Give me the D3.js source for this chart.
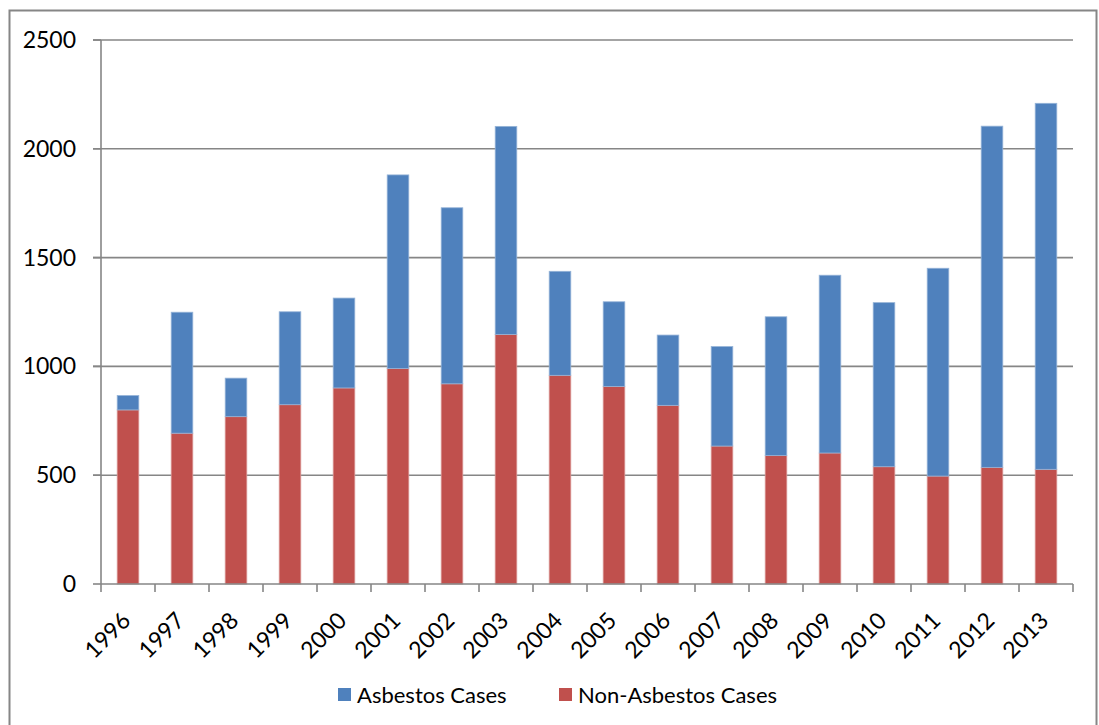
<!DOCTYPE html>
<html>
<head>
<meta charset="utf-8">
<script src="https://cdn.jsdelivr.net/npm/d3@7"></script>
<style>
  html, body { margin: 0; padding: 0; background: #fff; }
  svg { display: block; font-family: Lato, "Open Sans", sans-serif; }
</style>
</head>
<body>
<svg id="chart" width="1099" height="725"></svg>
<script>
// Cases per year, split into asbestos-related and other cases
const years = ["1996","1997","1998","1999","2000","2001","2002","2003","2004","2005",
               "2006","2007","2008","2009","2010","2011","2012","2013"];
const nonAsbestos = [800, 693, 769, 824, 901, 990, 920, 1147, 959, 908,
                     821, 634, 590, 602, 539, 496, 536, 527];
const asbestos    = [66, 556, 177, 427, 413, 890, 809, 956, 478, 389,
                     323, 457, 638, 817, 754, 955, 1568, 1682];
const yTicks = [0, 500, 1000, 1500, 2000, 2500];
const seriesNames = ["Asbestos Cases", "Non-Asbestos Cases"];
const seriesColors = ["#4F81BD", "#C0504D"];

const svg = d3.select("#chart");
const plotLeft = 101, plotRight = 1073, plotTop = 40, plotBottom = 584;

// Outer chart frame
svg.append("rect")
  .attr("x", 9.5).attr("y", 10.5)
  .attr("width", 1087).attr("height", 740)
  .attr("fill", "#fff").attr("stroke", "#868686").attr("stroke-width", 2);

const x = d3.scaleBand().domain(years).range([plotLeft, plotRight]).paddingInner(0.6).paddingOuter(0.3);
const y = d3.scaleLinear().domain([0, 2500]).range([plotBottom, plotTop]);

// Horizontal gridlines
svg.append("g").selectAll("line").data(yTicks.filter(t => t > 0)).join("line")
  .attr("x1", plotLeft - 8).attr("x2", plotRight)
  .attr("y1", d => y(d)).attr("y2", d => y(d))
  .attr("stroke", "#868686").attr("stroke-width", 1.6);

// Stacked bars
const rows = years.map((yr, i) => ({ year: yr, non: nonAsbestos[i], asb: asbestos[i] }));
const stack = d3.stack().keys(["non", "asb"])(rows);
const colorFor = { non: seriesColors[1], asb: seriesColors[0] };
const edgeFor = { non: "#D99694", asb: "#95B3D7" };

svg.append("g").selectAll("g").data(stack).join("g")
  .attr("fill", d => colorFor[d.key])
  .attr("stroke", d => edgeFor[d.key])
  .attr("stroke-width", 0.8)
  .selectAll("rect").data(d => d).join("rect")
  .attr("x", d => x(d.data.year))
  .attr("width", x.bandwidth())
  .attr("y", d => y(d[1]))
  .attr("height", d => y(d[0]) - y(d[1]));

// Y axis line, ticks and labels
const yAxis = svg.append("g");
yAxis.append("line")
  .attr("x1", plotLeft).attr("x2", plotLeft).attr("y1", plotTop).attr("y2", plotBottom)
  .attr("stroke", "#868686").attr("stroke-width", 1.6);
yAxis.selectAll("line.tick").data(yTicks).join("line").attr("class", "tick")
  .attr("x1", plotLeft - 8).attr("x2", plotLeft)
  .attr("y1", d => y(d)).attr("y2", d => y(d))
  .attr("stroke", "#868686").attr("stroke-width", 1.6);
yAxis.selectAll("text").data(yTicks).join("text")
  .attr("x", 76).attr("y", d => y(d))
  .attr("dy", "0.35em")
  .attr("text-anchor", "end")
  .attr("font-size", 23)
  .attr("fill", "#000")
  .text(d => d);

// X axis line, category-boundary ticks and rotated labels
const xAxis = svg.append("g");
xAxis.append("line")
  .attr("x1", plotLeft).attr("x2", plotRight).attr("y1", plotBottom).attr("y2", plotBottom)
  .attr("stroke", "#868686").attr("stroke-width", 1.6);
const step = (plotRight - plotLeft) / years.length;
xAxis.selectAll("line.tick").data(d3.range(years.length + 1)).join("line").attr("class", "tick")
  .attr("x1", i => plotLeft + i * step).attr("x2", i => plotLeft + i * step)
  .attr("y1", plotBottom).attr("y2", plotBottom + 8)
  .attr("stroke", "#868686").attr("stroke-width", 1.6);
xAxis.selectAll("text").data(years).join("text")
  .attr("transform", d => `translate(${x(d) + x.bandwidth() / 2 + 4},${plotBottom + 38}) rotate(-45)`)
  .attr("text-anchor", "end")
  .attr("font-size", 23)
  .attr("fill", "#000")
  .text(d => d);

// Legend
const legendItems = [
  { name: seriesNames[0], color: seriesColors[0], x: 338 },
  { name: seriesNames[1], color: seriesColors[1], x: 559 }
];
const legend = svg.append("g").selectAll("g").data(legendItems).join("g")
  .attr("transform", d => `translate(${d.x},688)`);
legend.append("rect").attr("width", 13).attr("height", 13).attr("fill", d => d.color);
legend.append("text")
  .attr("x", 19).attr("y", 15)
  .attr("font-size", 22)
  .attr("fill", "#000")
  .text(d => d.name);
</script>
</body>
</html>
